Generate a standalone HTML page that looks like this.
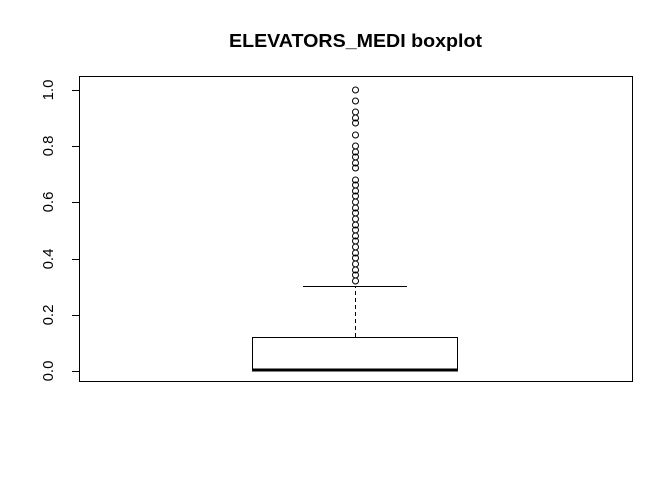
<!DOCTYPE html>
<html><head><meta charset="utf-8"><style>body{margin:0;background:#fff}svg{display:block}</style></head>
<body>
<svg width="672" height="480" viewBox="0 0 672 480" xmlns="http://www.w3.org/2000/svg">
<rect width="672" height="480" fill="#fff"/>
<text x="229" y="47" textLength="253" lengthAdjust="spacingAndGlyphs" font-family="Liberation Sans, sans-serif" font-weight="bold" font-size="18">ELEVATORS_MEDI boxplot</text>
<rect x="79.5" y="76.5" width="553" height="305" fill="none" stroke="#000" stroke-width="1"/>
<g stroke="#000" stroke-width="1">
<line x1="79" y1="90.5" x2="72" y2="90.5"/>
<line x1="79" y1="146.5" x2="72" y2="146.5"/>
<line x1="79" y1="202.5" x2="72" y2="202.5"/>
<line x1="79" y1="259.5" x2="72" y2="259.5"/>
<line x1="79" y1="315.5" x2="72" y2="315.5"/>
<line x1="79" y1="371.5" x2="72" y2="371.5"/>
<line x1="79.5" y1="90" x2="79.5" y2="372"/>
</g>
<g font-family="Liberation Sans, sans-serif" font-size="15" text-anchor="middle" fill="#000">
<text transform="translate(53,90) rotate(-90)">1.0</text>
<text transform="translate(53,146) rotate(-90)">0.8</text>
<text transform="translate(53,202) rotate(-90)">0.6</text>
<text transform="translate(53,259) rotate(-90)">0.4</text>
<text transform="translate(53,315) rotate(-90)">0.2</text>
<text transform="translate(53,371) rotate(-90)">0.0</text>
</g>
<rect x="252.5" y="337.5" width="205" height="33" fill="none" stroke="#000"/>
<line x1="252" y1="370" x2="458" y2="370" stroke="#000" stroke-width="3"/>
<line x1="355.5" y1="337" x2="355.5" y2="286" stroke="#000" stroke-dasharray="4,3"/>
<line x1="303" y1="286.5" x2="407" y2="286.5" stroke="#000"/>
<g fill="none" stroke="#000" stroke-width="1">
<circle cx="355.5" cy="90" r="3"/>
<circle cx="355.5" cy="101" r="3"/>
<circle cx="355.5" cy="112" r="3"/>
<circle cx="355.5" cy="118" r="3"/>
<circle cx="355.5" cy="123" r="3"/>
<circle cx="355.5" cy="135" r="3"/>
<circle cx="355.5" cy="146" r="3"/>
<circle cx="355.5" cy="152" r="3"/>
<circle cx="355.5" cy="157" r="3"/>
<circle cx="355.5" cy="163" r="3"/>
<circle cx="355.5" cy="168" r="3"/>
<circle cx="355.5" cy="180" r="3"/>
<circle cx="355.5" cy="185" r="3"/>
<circle cx="355.5" cy="191" r="3"/>
<circle cx="355.5" cy="196" r="3"/>
<circle cx="355.5" cy="202" r="3"/>
<circle cx="355.5" cy="208" r="3"/>
<circle cx="355.5" cy="213" r="3"/>
<circle cx="355.5" cy="219" r="3"/>
<circle cx="355.5" cy="225" r="3"/>
<circle cx="355.5" cy="230" r="3"/>
<circle cx="355.5" cy="236" r="3"/>
<circle cx="355.5" cy="241" r="3"/>
<circle cx="355.5" cy="247" r="3"/>
<circle cx="355.5" cy="253" r="3"/>
<circle cx="355.5" cy="258" r="3"/>
<circle cx="355.5" cy="264" r="3"/>
<circle cx="355.5" cy="270" r="3"/>
<circle cx="355.5" cy="275" r="3"/>
<circle cx="355.5" cy="281" r="3"/>
</g>
</svg>
</body></html>
